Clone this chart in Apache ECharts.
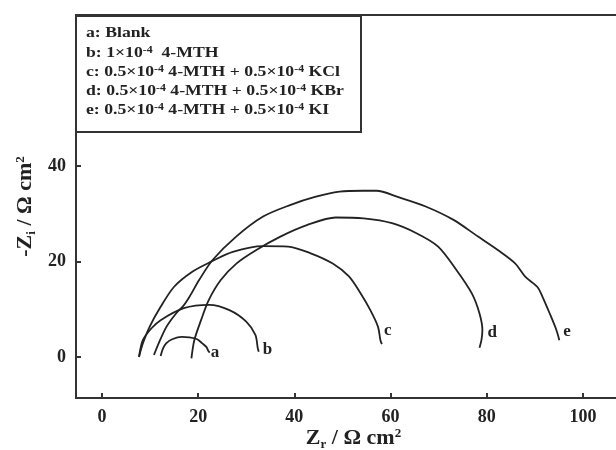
<!DOCTYPE html>
<html><head><meta charset="utf-8">
<script src="https://cdn.jsdelivr.net/npm/echarts@6/dist/echarts.min.js"></script>
<style>html,body{margin:0;padding:0;background:#fff}#c{width:616px;height:450px}</style>
</head><body><div id="c"></div>
<script>
// ---- data ----
const xTicks = [0, 20, 40, 60, 80, 100];
const yTicks = [0, 20, 40];
const curveNames = ['a', 'b', 'c', 'd', 'e'];

const aX = [12.2, 12.7, 13.4, 14.6, 16.6, 18.2, 19.8, 20.8, 21.7, 22.1, 22.4];
const aY = [0.2, 1.8, 2.9, 3.7, 4.2, 4.1, 3.7, 2.9, 2.1, 1.3, 0.9];

const bX = [7.7, 8.5, 10.3, 12.2, 17.0, 22.3, 26.5, 30.0, 31.9, 32.4, 32.6];
const bY = [0, 3.5, 6.0, 7.7, 10.2, 10.9, 9.8, 7.4, 4.6, 1.8, 1.1];

const cX = [7.7, 8.5, 9.9, 12.2, 15.0, 18.7, 22.6, 27.2, 33.5, 38.7, 43.4, 47.9, 51.3, 53.6, 55.8, 57.4, 57.9, 58.2];
const cY = [0, 2.8, 6.3, 10.5, 14.7, 17.8, 19.9, 22.0, 23.2, 23.1, 21.7, 19.6, 16.9, 13.6, 9.8, 6.3, 3.5, 2.7];

const dX = [18.6, 19.2, 20.6, 22.2, 24.7, 28.0, 32.1, 37.1, 42.6, 48.6, 54.4, 60.3, 65.4, 69.9, 73.7, 76.9, 78.5, 79.1, 78.9, 78.5];
const dY = [-0.3, 3.5, 7.7, 11.9, 16.1, 19.6, 22.4, 25.2, 27.6, 29.2, 29.0, 28.0, 25.9, 23.1, 18.2, 13.3, 9.1, 5.6, 3.5, 1.9];

const eX = [10.8, 11.9, 13.4, 15.4, 17.0, 18.2, 20.2, 23.0, 27.9, 33.5, 39.1, 44.3, 49.4, 54.2, 57.1, 61.5, 67.3, 73.1, 78.2, 82.3, 85.9, 88.0, 90.5, 91.6, 93.1, 94.5, 95.1];
const eY = [0.4, 3.1, 6.3, 9.1, 10.8, 12.6, 16.1, 20.3, 25.2, 29.4, 31.8, 33.5, 34.6, 34.8, 34.8, 33.5, 31.5, 28.7, 25.2, 22.4, 19.6, 16.8, 14.7, 12.6, 9.1, 5.6, 3.5];

const legendLines = [
  'a: Blank',
  'b: 1×10{sup|-4}  4-MTH',
  'c: 0.5×10{sup|-4} 4-MTH + 0.5×10{sup|-4} KCl',
  'd: 0.5×10{sup|-4} 4-MTH + 0.5×10{sup|-4} KBr',
  'e: 0.5×10{sup|-4} 4-MTH + 0.5×10{sup|-4} KI'
];

// ---- styling ----
const FONT = '"Liberation Serif", "Times New Roman", serif';
const INK = '#222';
const xs = [aX, bX, cX, dX, eX];
const ys = [aY, bY, cY, dY, eY];
const labelOffsets = [[-3, 0], [0, -2], [-2, -13], [4, -15], [0, -9]];

const series = curveNames.map((n, i) => ({
  name: n,
  type: 'line',
  data: xs[i].map((x, j) => [x, ys[i][j]]),
  showSymbol: false,
  smooth: 0.3,
  lineStyle: { color: INK, width: 1.8 },
  itemStyle: { color: INK },
  endLabel: {
    show: true, formatter: n, offset: labelOffsets[i], distance: 4,
    fontFamily: FONT, fontWeight: 'bold', fontSize: 17, color: INK
  },
  animation: false,
  z: 3
}));

const supStyle = { fontFamily: FONT, fontWeight: 'bold', fontSize: 10, fill: INK, padding: [0, 0, 7, 0] };
const graphics = [{
  type: 'rect', left: 75, top: 15, z: 10,
  shape: { width: 285, height: 116 },
  style: { fill: '#fff', stroke: '#333', lineWidth: 2 }
}].concat(legendLines.map((t, i) => ({
  type: 'text', x: 86, y: 26 + i * 19, z: 11, scaleX: 1.18,
  style: {
    text: t, fontFamily: FONT, fontWeight: 'bold', fontSize: 15, fill: INK,
    rich: { sup: supStyle }
  }
})));

const nameRich = {
  sub: { fontFamily: FONT, fontWeight: 'bold', fontSize: 13, color: INK, padding: [12, 0, 0, 0] },
  sup: { fontFamily: FONT, fontWeight: 'bold', fontSize: 13, color: INK, padding: [0, 0, 10, 0] }
};

const chart = echarts.init(document.getElementById('c'), null, { renderer: 'canvas' });
chart.setOption({
  animation: false,
  backgroundColor: '#fff',
  grid: { left: 76, top: 15, width: 555, height: 383, show: true, borderColor: '#333', borderWidth: 2, containLabel: false, outerBoundsMode: 'none' },
  xAxis: {
    type: 'value', min: -5.4, max: 110,
    name: 'Z{sub|r} / Ω cm{sup|2}', nameLocation: 'middle', nameGap: 28, nameMoveOverlap: false,
    nameTextStyle: { fontFamily: FONT, fontWeight: 'bold', fontSize: 22, color: INK, rich: nameRich },
    axisLine: { onZero: false, lineStyle: { color: '#333', width: 2 } },
    axisTick: { inside: true, length: 5, customValues: xTicks, lineStyle: { color: '#333', width: 2 } },
    axisLabel: { customValues: xTicks, margin: 10, fontFamily: FONT, fontWeight: 'bold', fontSize: 18, color: INK },
    splitLine: { show: false }
  },
  yAxis: {
    type: 'value', min: -8.6, max: 71.6,
    name: '-Z{sub|i} / Ω cm{sup|2}', nameLocation: 'middle', nameGap: 38, nameRotate: 90, nameMoveOverlap: false,
    nameTextStyle: { fontFamily: FONT, fontWeight: 'bold', fontSize: 22, color: INK, rich: nameRich },
    axisLine: { onZero: false, lineStyle: { color: '#333', width: 2 } },
    axisTick: { inside: true, length: 5, customValues: yTicks, lineStyle: { color: '#333', width: 2 } },
    axisLabel: { customValues: yTicks, margin: 10, fontFamily: FONT, fontWeight: 'bold', fontSize: 18, color: INK },
    splitLine: { show: false }
  },
  graphic: graphics,
  series: series
});
</script>
</body></html>
